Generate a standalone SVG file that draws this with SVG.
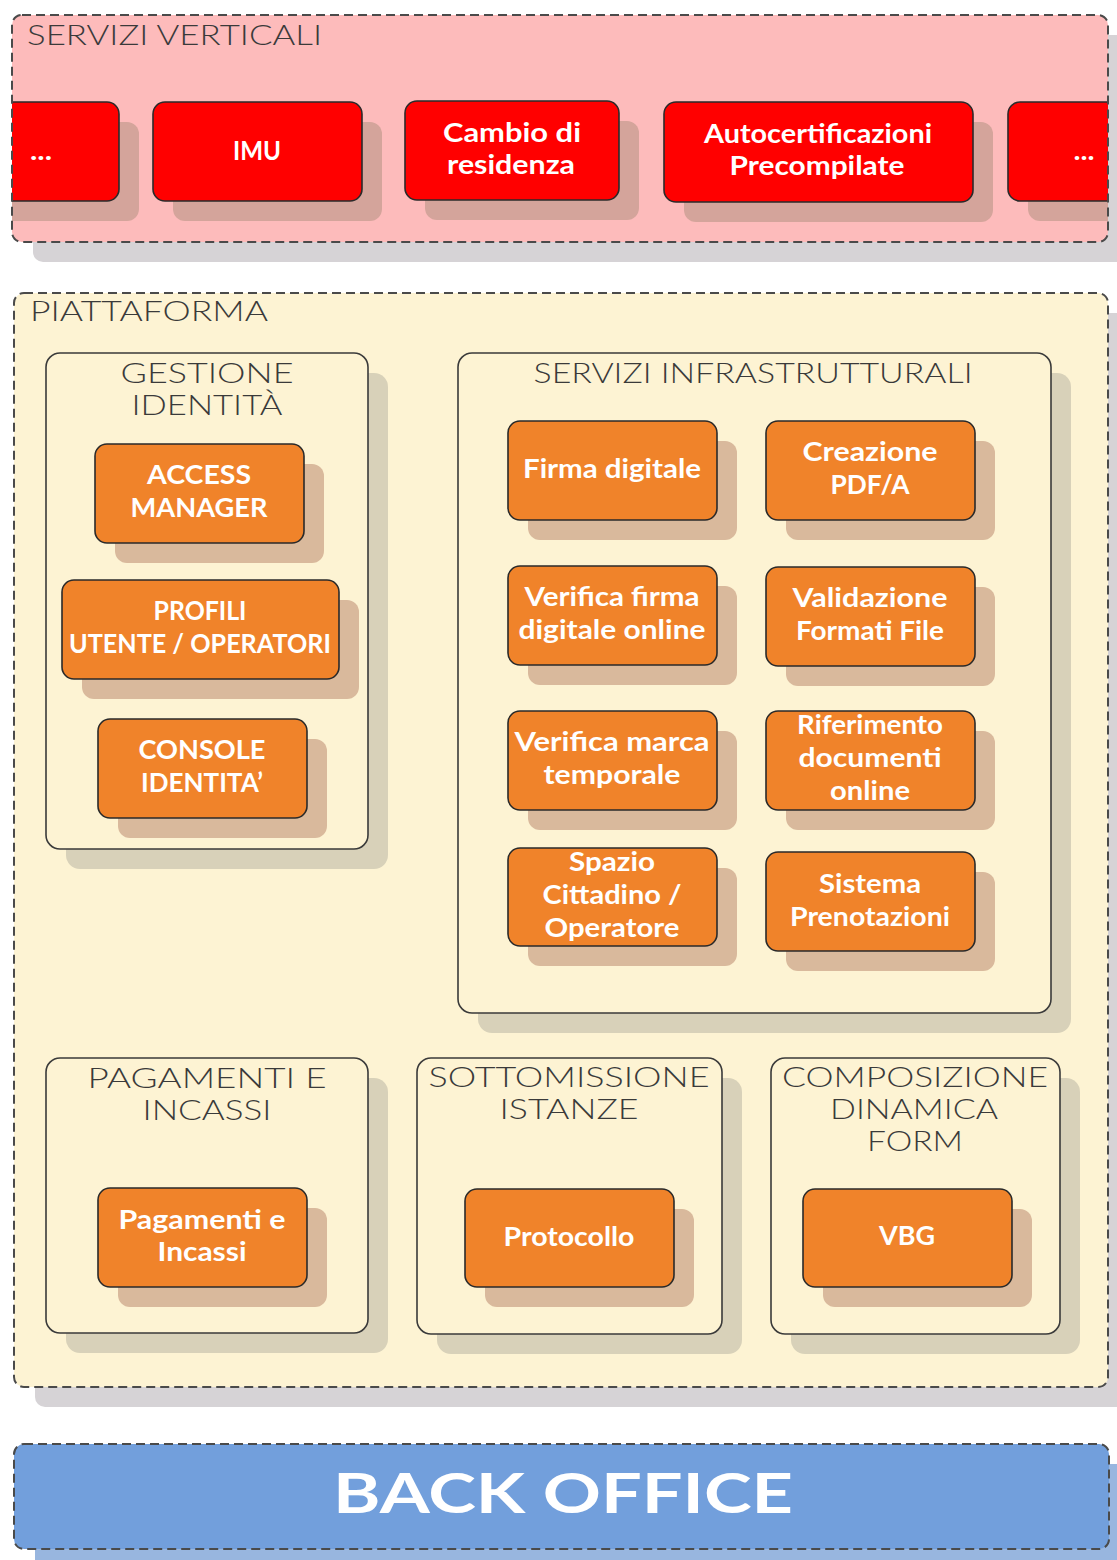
<svg xmlns="http://www.w3.org/2000/svg" width="1117" height="1560" viewBox="0 0 1117 1560">
  <style>
    .layer { stroke: #4a4a4a; stroke-width: 2; stroke-dasharray: 9 5; }
    .group { fill: #fdf3d3; stroke: #3a3a3a; stroke-width: 1.6; }
    .red { fill: #ff0000; stroke: #2a2a2a; stroke-width: 1.6; }
    .orange { fill: #f0832a; stroke: #2a2a2a; stroke-width: 1.6; }
    .sh-red { fill: #d4a49b; }
    .sh-orange { fill: #d9b99c; }
    .sh-group { fill: #d8d1b9; }
    .sh-layer { fill: #d6d3d6; }
    .title { font-family: Lato, "DejaVu Sans", sans-serif; font-weight: 300; font-size: 27px; fill: #3a3a3a; text-transform: uppercase; }
    .label { font-family: Lato, "Liberation Sans", sans-serif; font-weight: 700; font-size: 26px; fill: #ffffff; text-anchor: middle; }
    .big { font-family: Lato, "DejaVu Sans", sans-serif; font-weight: 700; font-size: 56px; fill: #ffffff; text-transform: uppercase; }
  </style>
  <defs>
    <clipPath id="clip-vert">
      <rect x="12" y="15" width="1096" height="227" rx="10"/>
    </clipPath>
  </defs>

  <!-- layer: vertical services -->
  <g id="servizi-verticali">
    <rect class="sh-layer" x="33" y="35" width="1096" height="227" rx="10"/>
    <rect x="12" y="15" width="1096" height="227" rx="10" fill="#fdbbbb"/>
    <g clip-path="url(#clip-vert)">
      <g id="v-more-left">
        <rect class="sh-red" x="-40" y="122" width="179" height="99" rx="12"/>
        <rect class="red" x="-60" y="102" width="179" height="99" rx="12"/>
        <text class="label" x="41" y="160" textLength="22" lengthAdjust="spacingAndGlyphs">...</text>
      </g>
      <g id="v-imu">
        <rect class="sh-red" x="173" y="122" width="209" height="99" rx="12"/>
        <rect class="red" x="153" y="102" width="209" height="99" rx="12"/>
        <text class="label" x="257" y="160" textLength="48" lengthAdjust="spacingAndGlyphs">IMU</text>
      </g>
      <g id="v-cambio-residenza">
        <rect class="sh-red" x="425" y="121" width="214" height="99" rx="12"/>
        <rect class="red" x="405" y="101" width="214" height="99" rx="12"/>
        <text class="label" x="512" y="142" textLength="138" lengthAdjust="spacingAndGlyphs">Cambio di</text>
        <text class="label" x="511" y="174" textLength="128" lengthAdjust="spacingAndGlyphs">residenza</text>
      </g>
      <g id="v-autocertificazioni">
        <rect class="sh-red" x="684" y="122" width="309" height="100" rx="12"/>
        <rect class="red" x="664" y="102" width="309" height="100" rx="12"/>
        <text class="label" x="818" y="143" textLength="228" lengthAdjust="spacingAndGlyphs">Autocertificazioni</text>
        <text class="label" x="817" y="175" textLength="175" lengthAdjust="spacingAndGlyphs">Precompilate</text>
      </g>
      <g id="v-more-right">
        <rect class="sh-red" x="1028" y="122" width="200" height="99" rx="12"/>
        <rect class="red" x="1008" y="102" width="200" height="99" rx="12"/>
        <text class="label" x="1084" y="160" textLength="21" lengthAdjust="spacingAndGlyphs">...</text>
      </g>
    </g>
    <rect class="layer" x="12" y="15" width="1096" height="227" rx="10" fill="none"/>
    <text class="title" x="27" y="45" textLength="295" lengthAdjust="spacingAndGlyphs">servizi verticali</text>
  </g>

  <!-- layer: platform -->
  <g id="piattaforma">
    <rect class="sh-layer" x="35" y="313" width="1094" height="1094" rx="10"/>
    <rect class="layer" x="14" y="293" width="1094" height="1094" rx="10" fill="#fdf3d3"/>
    <text class="title" x="30" y="321" textLength="238" lengthAdjust="spacingAndGlyphs">Piattaforma</text>

    <!-- identity management -->
    <g id="gestione-identita">
      <rect class="sh-group" x="66" y="373" width="322" height="496" rx="14"/>
      <rect class="group" x="46" y="353" width="322" height="496" rx="14"/>
      <text class="title" x="207" y="383" text-anchor="middle" textLength="173" lengthAdjust="spacingAndGlyphs">Gestione</text>
      <text class="title" x="207" y="415" text-anchor="middle" textLength="151" lengthAdjust="spacingAndGlyphs">identità</text>
      <g id="access-manager">
        <rect class="sh-orange" x="115" y="464" width="209" height="99" rx="12"/>
        <rect class="orange" x="95" y="444" width="209" height="99" rx="12"/>
        <text class="label" x="199" y="484" textLength="104" lengthAdjust="spacingAndGlyphs">ACCESS</text>
        <text class="label" x="199" y="517" textLength="137" lengthAdjust="spacingAndGlyphs">MANAGER</text>
      </g>
      <g id="profili-utente">
        <rect class="sh-orange" x="82" y="600" width="277" height="99" rx="12"/>
        <rect class="orange" x="62" y="580" width="277" height="99" rx="12"/>
        <text class="label" x="200" y="620" textLength="93" lengthAdjust="spacingAndGlyphs">PROFILI</text>
        <text class="label" x="200" y="653" textLength="262" lengthAdjust="spacingAndGlyphs">UTENTE / OPERATORI</text>
      </g>
      <g id="console-identita">
        <rect class="sh-orange" x="118" y="739" width="209" height="99" rx="12"/>
        <rect class="orange" x="98" y="719" width="209" height="99" rx="12"/>
        <text class="label" x="202" y="759" textLength="127" lengthAdjust="spacingAndGlyphs">CONSOLE</text>
        <text class="label" x="202" y="792" textLength="122" lengthAdjust="spacingAndGlyphs">IDENTITA’</text>
      </g>
    </g>

    <!-- infrastructure services -->
    <g id="servizi-infrastrutturali">
      <rect class="sh-group" x="478" y="373" width="593" height="660" rx="14"/>
      <rect class="group" x="458" y="353" width="593" height="660" rx="14"/>
      <text class="title" x="753" y="383" text-anchor="middle" textLength="439" lengthAdjust="spacingAndGlyphs">servizi infrastrutturali</text>
      <g id="firma-digitale">
        <rect class="sh-orange" x="528" y="441" width="209" height="99" rx="12"/>
        <rect class="orange" x="508" y="421" width="209" height="99" rx="12"/>
        <text class="label" x="612" y="478" textLength="178" lengthAdjust="spacingAndGlyphs">Firma digitale</text>
      </g>
      <g id="creazione-pdfa">
        <rect class="sh-orange" x="786" y="441" width="209" height="99" rx="12"/>
        <rect class="orange" x="766" y="421" width="209" height="99" rx="12"/>
        <text class="label" x="870" y="461" textLength="135" lengthAdjust="spacingAndGlyphs">Creazione</text>
        <text class="label" x="870" y="494" textLength="79" lengthAdjust="spacingAndGlyphs">PDF/A</text>
      </g>
      <g id="verifica-firma">
        <rect class="sh-orange" x="528" y="586" width="209" height="99" rx="12"/>
        <rect class="orange" x="508" y="566" width="209" height="99" rx="12"/>
        <text class="label" x="612" y="606" textLength="175" lengthAdjust="spacingAndGlyphs">Verifica firma</text>
        <text class="label" x="612" y="639" textLength="187" lengthAdjust="spacingAndGlyphs">digitale online</text>
      </g>
      <g id="validazione-formati">
        <rect class="sh-orange" x="786" y="587" width="209" height="99" rx="12"/>
        <rect class="orange" x="766" y="567" width="209" height="99" rx="12"/>
        <text class="label" x="870" y="607" textLength="155" lengthAdjust="spacingAndGlyphs">Validazione</text>
        <text class="label" x="870" y="640" textLength="148" lengthAdjust="spacingAndGlyphs">Formati File</text>
      </g>
      <g id="verifica-marca">
        <rect class="sh-orange" x="528" y="731" width="209" height="99" rx="12"/>
        <rect class="orange" x="508" y="711" width="209" height="99" rx="12"/>
        <text class="label" x="612" y="751" textLength="195" lengthAdjust="spacingAndGlyphs">Verifica marca</text>
        <text class="label" x="612" y="784" textLength="137" lengthAdjust="spacingAndGlyphs">temporale</text>
      </g>
      <g id="riferimento-documenti">
        <rect class="sh-orange" x="786" y="731" width="209" height="99" rx="12"/>
        <rect class="orange" x="766" y="711" width="209" height="99" rx="12"/>
        <text class="label" x="870" y="734" textLength="146" lengthAdjust="spacingAndGlyphs">Riferimento</text>
        <text class="label" x="870" y="767" textLength="143" lengthAdjust="spacingAndGlyphs">documenti</text>
        <text class="label" x="870" y="800" textLength="80" lengthAdjust="spacingAndGlyphs">online</text>
      </g>
      <g id="spazio-cittadino">
        <rect class="sh-orange" x="528" y="868" width="209" height="98" rx="12"/>
        <rect class="orange" x="508" y="848" width="209" height="98" rx="12"/>
        <text class="label" x="612" y="871" textLength="86" lengthAdjust="spacingAndGlyphs">Spazio</text>
        <text class="label" x="612" y="904" textLength="139" lengthAdjust="spacingAndGlyphs">Cittadino /</text>
        <text class="label" x="612" y="937" textLength="135" lengthAdjust="spacingAndGlyphs">Operatore</text>
      </g>
      <g id="sistema-prenotazioni">
        <rect class="sh-orange" x="786" y="872" width="209" height="99" rx="12"/>
        <rect class="orange" x="766" y="852" width="209" height="99" rx="12"/>
        <text class="label" x="870" y="893" textLength="102" lengthAdjust="spacingAndGlyphs">Sistema</text>
        <text class="label" x="870" y="926" textLength="160" lengthAdjust="spacingAndGlyphs">Prenotazioni</text>
      </g>
    </g>

    <!-- payments -->
    <g id="pagamenti-incassi">
      <rect class="sh-group" x="66" y="1078" width="322" height="275" rx="14"/>
      <rect class="group" x="46" y="1058" width="322" height="275" rx="14"/>
      <text class="title" x="207" y="1088" text-anchor="middle" textLength="239" lengthAdjust="spacingAndGlyphs">Pagamenti e</text>
      <text class="title" x="207" y="1120" text-anchor="middle" textLength="129" lengthAdjust="spacingAndGlyphs">incassi</text>
      <g id="node-pagamenti">
        <rect class="sh-orange" x="118" y="1208" width="209" height="99" rx="12"/>
        <rect class="orange" x="98" y="1188" width="209" height="99" rx="12"/>
        <text class="label" x="202" y="1229" textLength="167" lengthAdjust="spacingAndGlyphs">Pagamenti e</text>
        <text class="label" x="202" y="1261" textLength="89" lengthAdjust="spacingAndGlyphs">Incassi</text>
      </g>
    </g>

    <!-- submissions -->
    <g id="sottomissione-istanze">
      <rect class="sh-group" x="437" y="1078" width="305" height="276" rx="14"/>
      <rect class="group" x="417" y="1058" width="305" height="276" rx="14"/>
      <text class="title" x="569" y="1087" text-anchor="middle" textLength="281" lengthAdjust="spacingAndGlyphs">Sottomissione</text>
      <text class="title" x="569" y="1119" text-anchor="middle" textLength="139" lengthAdjust="spacingAndGlyphs">istanze</text>
      <g id="protocollo">
        <rect class="sh-orange" x="485" y="1209" width="209" height="98" rx="12"/>
        <rect class="orange" x="465" y="1189" width="209" height="98" rx="12"/>
        <text class="label" x="569" y="1246" textLength="131" lengthAdjust="spacingAndGlyphs">Protocollo</text>
      </g>
    </g>

    <!-- dynamic forms -->
    <g id="composizione-form">
      <rect class="sh-group" x="791" y="1078" width="289" height="276" rx="14"/>
      <rect class="group" x="771" y="1058" width="289" height="276" rx="14"/>
      <text class="title" x="915" y="1087" text-anchor="middle" textLength="266" lengthAdjust="spacingAndGlyphs">Composizione</text>
      <text class="title" x="914" y="1119" text-anchor="middle" textLength="168" lengthAdjust="spacingAndGlyphs">dinamica</text>
      <text class="title" x="915" y="1151" text-anchor="middle" textLength="96" lengthAdjust="spacingAndGlyphs">form</text>
      <g id="vbg">
        <rect class="sh-orange" x="823" y="1209" width="209" height="98" rx="12"/>
        <rect class="orange" x="803" y="1189" width="209" height="98" rx="12"/>
        <text class="label" x="907" y="1245" textLength="56" lengthAdjust="spacingAndGlyphs">VBG</text>
      </g>
    </g>
  </g>

  <!-- layer: back office -->
  <g id="back-office">
    <rect x="35" y="1464" width="1095" height="105" rx="10" fill="#98b6df"/>
    <rect class="layer" x="14" y="1444" width="1095" height="105" rx="10" fill="#729fdc"/>
    <text class="big" x="563" y="1513" text-anchor="middle" textLength="460" lengthAdjust="spacingAndGlyphs">Back office</text>
  </g>

  <!-- no connectors are drawn between the blocks -->
  <g id="connectors"/>
</svg>
